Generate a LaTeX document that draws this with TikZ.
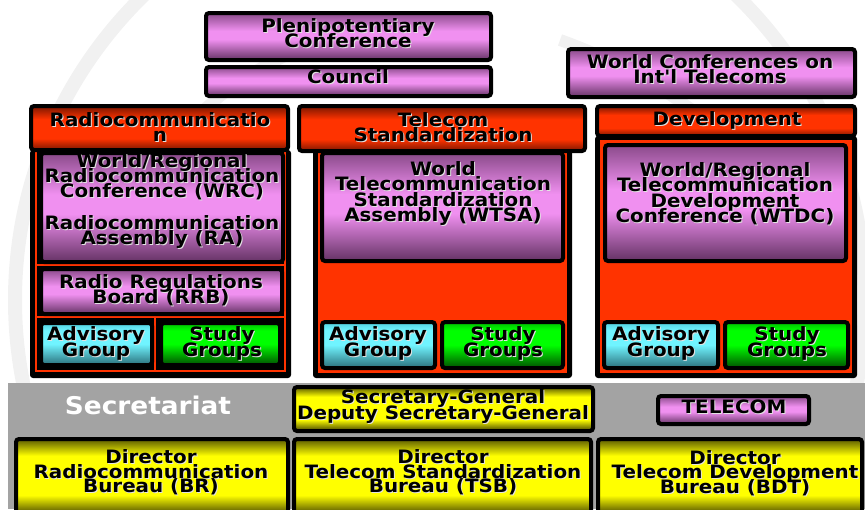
\documentclass[tikz,border=0pt]{standalone}
\usepackage{fontspec}
\newfontfamily\dvb{DejaVu Sans}[FakeStretch=1.08]
\newcommand\lab{\dvb\bfseries\fontsize{18.4}{15.2}\selectfont\lineskiplimit=-100pt\lineskip=0pt\relax}
\newcommand\labdir{\dvb\bfseries\fontsize{18.4}{14.3}\selectfont\lineskiplimit=-100pt\lineskip=0pt\relax}
\newcommand\labbig{\dvb\bfseries\fontsize{24.4}{26}\selectfont}
\definecolor{shd}{HTML}{E2E2E2}
\newcommand\sh[1]{\leavevmode\rlap{\kern1pt\raisebox{-1pt}{\textcolor{shd}{#1}}}#1}
\definecolor{pT}{HTML}{8A4A8A}\definecolor{pM}{HTML}{F090F0}\definecolor{pB}{HTML}{643264}
\definecolor{rT}{HTML}{7A1600}\definecolor{rM}{HTML}{FF3300}\definecolor{rB}{HTML}{7A1600}
\definecolor{yT}{HTML}{5A5A00}\definecolor{yM}{HTML}{FFFF00}\definecolor{yB}{HTML}{404000}
\definecolor{cT}{HTML}{50D0E0}\definecolor{cM}{HTML}{70F4FF}\definecolor{cB}{HTML}{2A6F7A}
\definecolor{gT}{HTML}{00C000}\definecolor{gM}{HTML}{00FF00}\definecolor{gB}{HTML}{005000}
\definecolor{itured}{HTML}{FF3300}
\definecolor{secgray}{HTML}{A3A3A3}
\definecolor{wm}{HTML}{F1F1F1}
\pgfdeclareverticalshading{shpurple}{100bp}{color(0bp)=(pB); color(25bp)=(pB); color(47bp)=(pM); color(56bp)=(pM); color(75bp)=(pT); color(100bp)=(pT)}
\pgfdeclareverticalshading{shred}{100bp}{color(0bp)=(rB); color(25bp)=(rB); color(38bp)=(rM); color(60bp)=(rM); color(75bp)=(rT); color(100bp)=(rT)}
\pgfdeclareverticalshading{shyellow}{100bp}{color(0bp)=(yB); color(25bp)=(yB); color(38bp)=(yM); color(64bp)=(yM); color(75bp)=(yT); color(100bp)=(yT)}
\pgfdeclareverticalshading{shcyan}{100bp}{color(0bp)=(cB); color(25bp)=(cB); color(50bp)=(cM); color(66bp)=(cM); color(75bp)=(cT); color(100bp)=(cT)}
\pgfdeclareverticalshading{shgreen}{100bp}{color(0bp)=(gB); color(25bp)=(gB); color(50bp)=(gM); color(66bp)=(gM); color(75bp)=(gT); color(100bp)=(gT)}
\newcommand\bx[6]{\node[#2, minimum width={#5-#3}, minimum height={#6-#4}] (#1) at ({(#3+#5)/2},{(#4+#6)/2}) {};}
\begin{document}
\begin{tikzpicture}[x=1pt,y=-1pt,
  box/.style={draw=black, line width=4pt, rounded corners=3pt, inner sep=0pt},
  pbox/.style={box, shading=shpurple},
  rbox/.style={box, shading=shred},
  ybox/.style={box, shading=shyellow},
  cbox/.style={box, shading=shcyan},
  gbox/.style={box, shading=shgreen},
  lbl/.style={font=\lab, align=center, inner sep=0pt, text=black},
  dlbl/.style={lbl, font=\labdir},
  body/.style={fill=black, rounded corners=3pt},
  redline/.style={draw=itured, line width=1.5pt}]
\useasboundingbox (0,0) rectangle (865,509);
\clip (0,0) rectangle (865,509);
% watermark
\draw[wm, line width=14pt] (440,300) circle [radius=425];
\draw[wm, line width=12pt] (120,330) .. controls (110,160) and (230,40) .. (420,20);
\draw[wm, line width=12pt] (560,40) .. controls (700,90) and (820,200) .. (830,330);
% top boxes
\bx{pleni}{pbox}{206}{13}{491}{60}
\bx{council}{pbox}{206}{67}{491}{96}
\bx{wcit}{pbox}{568}{49}{855}{97}
% Radiocommunication column
\fill[body] (30,150) rectangle (291,378);
\draw[redline] (36,150) rectangle (285,371);
\draw[redline] (36,265) -- (285,265);
\draw[redline] (36,317) -- (285,317);
\draw[redline] (155,317) -- (155,371);
\bx{radioh}{rbox}{31}{106}{288}{150}
\bx{wrc}{pbox}{41}{153}{283}{262}
\bx{rrb}{pbox}{41}{269}{282}{314}
\bx{adv1}{cbox}{41}{323}{152}{365}
\bx{st1}{gbox}{161}{323}{280}{365}
% Telecom Standardization column
\fill[body] (313,150) rectangle (572,378);
\fill[itured] (318,152) rectangle (567,373);
\bx{tsh}{rbox}{299}{106}{585}{151}
\bx{wtsa}{pbox}{322}{153}{563}{261}
\bx{adv2}{cbox}{322}{322}{435}{368}
\bx{st2}{gbox}{442}{322}{563}{368}
% Development column
\fill[body] (595,136) rectangle (857,378);
\fill[itured] (600,140) rectangle (852,373);
\bx{devh}{rbox}{597}{106}{855}{136}
\bx{wtdc}{pbox}{605}{145}{846}{261}
\bx{adv3}{cbox}{604}{322}{718}{368}
\bx{st3}{gbox}{725}{322}{848}{368}
% Secretariat
\fill[secgray] (8,383) rectangle (865,509);
\bx{sg}{ybox}{294}{387}{593}{431}
\bx{tel}{pbox}{658}{396}{809}{424}
\bx{br}{ybox}{16}{439}{288}{515}
\bx{tsb}{ybox}{294}{439}{591}{515}
\bx{bdt}{ybox}{598}{439}{862}{515}
% texts
\node[lbl] (pleni-t) at (348,33.8) {\sh{Plenipotentiary}\\\sh{Conference}};
\node[lbl] (council-t) at (348,77.5) {\sh{Council}};
\node[lbl] (wcit-t) at (710,69.3) {\sh{World Conferences on}\\\sh{Int'l Telecoms}};
\node[lbl] (radioh-t) at (160,127.5) {\sh{Radiocommunicatio}\\\sh{n}};
\node[lbl] (tsh-t) at (443,127.5) {\sh{Telecom}\\\sh{Standardization}};
\node[lbl] (devh-t) at (727,121) {\sh{Development}};
\node[lbl] (wrc-t) at (162,201.5) {\sh{World/Regional}\\\sh{Radiocommunication}\\\sh{Conference (WRC)}\\[17pt]\sh{Radiocommunication}\\\sh{Assembly (RA)}};
\node[lbl] (rrb-t) at (161,291) {\sh{Radio Regulations}\\\sh{Board (RRB)}};
\node[lbl] (adv1-t) at (96,344) {\sh{Advisory}\\\sh{Group}};
\node[lbl] (st1-t) at (222,344) {\sh{Study}\\\sh{Groups}};
\node[lbl] (wtsa-t) at (443,194) {\sh{World}\\\sh{Telecommunication}\\\sh{Standardization}\\\sh{Assembly (WTSA)}};
\node[lbl] (adv2-t) at (378,344) {\sh{Advisory}\\\sh{Group}};
\node[lbl] (st2-t) at (503,344) {\sh{Study}\\\sh{Groups}};
\node[lbl] (wtdc-t) at (725,194.2) {\sh{World/Regional}\\\sh{Telecommunication}\\\sh{Development}\\\sh{Conference (WTDC)}};
\node[lbl] (adv3-t) at (661,344) {\sh{Advisory}\\\sh{Group}};
\node[lbl] (st3-t) at (787,344) {\sh{Study}\\\sh{Groups}};
\node[font=\labbig, text=white, inner sep=0pt] (sec-t) at (148,405.5) {Secretariat};
\node[lbl] (sg-t) at (443,407) {\sh{Secretary-General}\\\sh{Deputy Secretary-General}};
\node[lbl] (tel-t) at (734,407) {\sh{TELECOM}};
\node[dlbl] (br-t) at (151,472.8) {\sh{Director}\\\sh{Radiocommunication}\\\sh{Bureau (BR)}};
\node[dlbl] (tsb-t) at (443,472.8) {\sh{Director}\\\sh{Telecom Standardization}\\\sh{Bureau (TSB)}};
\node[dlbl] (bdt-t) at (735,473.5) {\sh{Director}\\\sh{Telecom Development}\\\sh{Bureau (BDT)}};
\end{tikzpicture}
\end{document}
